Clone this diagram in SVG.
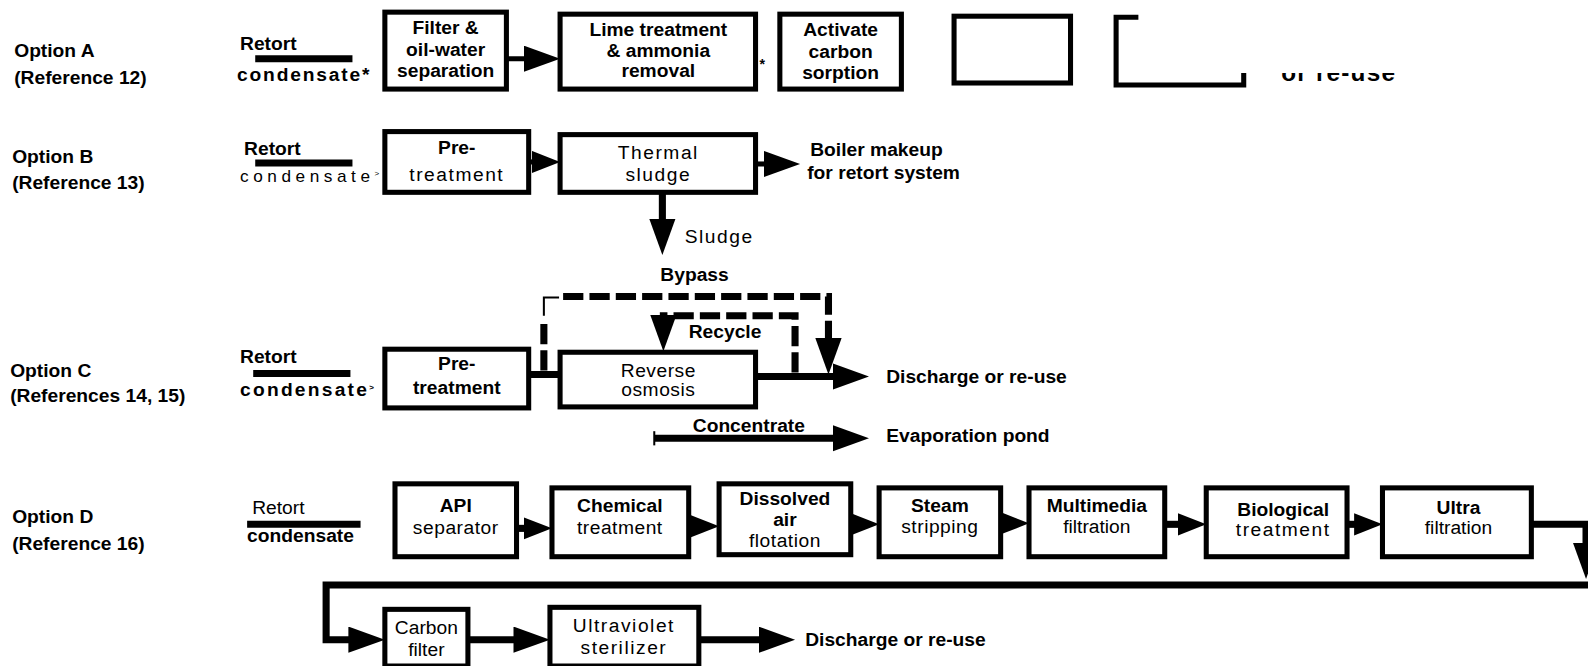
<svg xmlns="http://www.w3.org/2000/svg" width="1588" height="666" viewBox="0 0 1588 666">
<defs>
<style>
.box{fill:#fff;stroke:#000;stroke-width:5}
.ln{fill:none;stroke:#000;stroke-width:5}
.th{fill:none;stroke:#000;stroke-width:7}
.dash{fill:none;stroke:#000;stroke-width:7;stroke-dasharray:20 6}
text{font-family:"Liberation Sans",Arial,Helvetica,sans-serif;font-size:19px;fill:#000}
.b{font-weight:bold}
.c{text-anchor:middle}
.sp{letter-spacing:1.5px}
.r1{letter-spacing:0.5px}
</style>
<marker id="ah" markerUnits="userSpaceOnUse" markerWidth="38" markerHeight="28" refX="16" refY="13" orient="auto">
<path d="M0,0 L36,13 L0,26 Z" fill="#000"/>
</marker>
<marker id="ahs" markerUnits="userSpaceOnUse" markerWidth="30" markerHeight="24" refX="8" refY="11" orient="auto">
<path d="M0,0 L28,11 L0,22 Z" fill="#000"/>
</marker>
<clipPath id="cut"><rect x="1200" y="72" width="300" height="14"/></clipPath>
</defs>
<rect width="1588" height="666" fill="#fff"/>
<g transform="scale(1.0128,1.0122)">
<g id="labels">
<text class="b" x="14" y="56">Option  A</text>
<text class="b" x="14" y="83">(Reference  12)</text>
<text class="b" x="12" y="161">Option  B</text>
<text class="b" x="12" y="187">(Reference  13)</text>
<text class="b" x="10" y="372">Option  C</text>
<text class="b" x="10" y="397">(References 14, 15)</text>
<text class="b" x="12" y="517">Option  D</text>
<text class="b" x="12" y="543">(Reference  16)</text>
</g>
<g id="connectors">
<line class="th" x1="252" y1="58" x2="348" y2="58"/>
<line class="ln" x1="500" y1="58" x2="533" y2="58" marker-end="url(#ah)"/>
<line class="th" x1="252" y1="161" x2="348" y2="161"/>
<line class="ln" x1="522" y1="160" x2="533" y2="160" marker-end="url(#ahs)"/>
<line class="ln" x1="746" y1="162" x2="770" y2="162" marker-end="url(#ah)"/>
<line class="th" x1="654" y1="190" x2="654" y2="232" marker-end="url(#ah)"/>
<line class="th" x1="250" y1="369" x2="346" y2="369"/>
<line class="th" x1="522" y1="370" x2="553" y2="370"/>
<line class="th" x1="746" y1="372" x2="838" y2="372" marker-end="url(#ah)"/>
<path class="dash" d="M537,366 V318"/>
<path fill="none" stroke="#000" stroke-width="2" d="M537,312 V294 H552"/>
<path class="dash" d="M556,293 H818 V350" marker-end="url(#ah)"/>
<path class="dash" d="M785,368 V312 H655 V327" marker-end="url(#ah)"/>
<line class="th" x1="646" y1="433" x2="838" y2="433" marker-end="url(#ah)"/>
<line stroke="#000" stroke-width="2" x1="646" y1="426" x2="646" y2="440"/>
<line class="th" x1="244" y1="518" x2="356" y2="518"/>
<line class="th" x1="510" y1="522" x2="525" y2="522" marker-end="url(#ahs)"/>
<line class="th" x1="680" y1="520" x2="690" y2="520" marker-end="url(#ahs)"/>
<line class="th" x1="840" y1="518" x2="848" y2="518" marker-end="url(#ahs)"/>
<line class="th" x1="988" y1="517" x2="996" y2="517" marker-end="url(#ahs)"/>
<line class="th" x1="1150" y1="518" x2="1171" y2="518" marker-end="url(#ahs)"/>
<line class="th" x1="1330" y1="518" x2="1345" y2="518" marker-end="url(#ahs)"/>
<path class="th" d="M1512,518 H1566 V552" marker-end="url(#ah)"/>
<path class="th" stroke-linejoin="miter" d="M1570,578 H322 V632 H360" marker-end="url(#ah)"/>
<line class="th" x1="462" y1="632" x2="523" y2="632" marker-end="url(#ah)"/>
<line class="th" x1="690" y1="632" x2="765" y2="632" marker-end="url(#ah)"/>
</g>
<g id="optA">
<text class="b" x="237" y="49">Retort</text>
<text class="b" x="234" y="80" style="letter-spacing:1.8px">condensate*</text>
<g id="a1"><rect class="box" x="380" y="12" width="120" height="76"/>
<text class="b c" x="440" y="34">Filter &amp;</text><text class="b c" x="440" y="55">oil-water</text><text class="b c" x="440" y="76">separation</text></g>
<g id="a2"><rect class="box" x="553" y="14" width="193" height="74"/>
<text class="b c" x="650" y="36">Lime  treatment</text><text class="b c" x="650" y="56">&amp;  ammonia</text><text class="b c" x="650" y="76">removal</text></g>
<text class="b" x="750" y="68" style="font-size:14px">*</text>
<g id="a3"><rect class="box" x="770" y="14" width="120" height="74"/>
<text class="b c" x="830" y="36">Activate</text><text class="b c" x="830" y="57">carbon</text><text class="b c" x="830" y="78">sorption</text></g>
<g id="a4"><rect class="box" x="942" y="16" width="115" height="66"/></g>
<g id="a5"><path class="box" fill="none" d="M1124,17 H1102 V84 H1228 V72"/></g>
<text class="b" x="1265" y="80" clip-path="url(#cut)" style="font-size:24px;letter-spacing:1.2px">or re-use</text>
</g>
<g id="optB">
<text class="b" x="241" y="153">Retort</text>
<text x="237" y="180" style="letter-spacing:4.5px;font-size:17px">condensate<tspan style="font-size:8px;letter-spacing:0" dy="-6">&gt;</tspan></text>
<g id="b1"><rect class="box" x="380" y="130" width="142" height="60"/>
<text class="b c" x="451" y="152">Pre-</text><text class="c sp" x="451" y="179">treatment</text></g>
<g id="b2"><rect class="box" x="553" y="133" width="193" height="57"/>
<text class="c sp" x="650" y="157">Thermal</text><text class="c sp" x="650" y="179">sludge</text></g>
<text class="b" x="800" y="154">Boiler  makeup</text>
<text class="b" x="797" y="177">for retort system</text>
<text class="sp" x="676" y="240">Sludge</text>
</g>
<g id="optC">
<text class="b" x="652" y="278">Bypass</text>
<text class="b" x="680" y="334">Recycle</text>
<text class="b" x="237" y="359">Retort</text>
<text class="b" x="237" y="391" style="letter-spacing:2.2px">condensate<tspan style="font-size:8px;letter-spacing:0" dy="-6">&gt;</tspan></text>
<g id="c1"><rect class="box" x="380" y="345" width="142" height="58"/>
<text class="b c" x="451" y="366">Pre-</text><text class="b c" x="451" y="389">treatment</text></g>
<g id="c2"><rect class="box" x="553" y="348" width="193" height="54"/>
<text class="c r1" x="650" y="372">Reverse</text><text class="c r1" x="650" y="391">osmosis</text></g>
<text class="b" x="875" y="378">Discharge or re-use</text>
<text class="b" x="684" y="427">Concentrate</text>
<text class="b" x="875" y="437">Evaporation  pond</text>
</g>
<g id="optD">
<text x="249" y="508">Retort</text>
<text class="b" x="244" y="535">condensate</text>
<g id="d1"><rect class="box" x="390" y="478" width="120" height="72"/>
<text class="b c" x="450" y="506">API</text><text class="c r1" x="450" y="528">separator</text></g>
<g id="d2"><rect class="box" x="545" y="482" width="135" height="68"/>
<text class="b c" x="612" y="506">Chemical</text><text class="c r1" x="612" y="528">treatment</text></g>
<g id="d3"><rect class="box" x="710" y="478" width="130" height="70"/>
<text class="b c" x="775" y="499">Dissolved</text><text class="b c" x="775" y="520">air</text><text class="c r1" x="775" y="540">flotation</text></g>
<g id="d4"><rect class="box" x="868" y="482" width="120" height="68"/>
<text class="b c" x="928" y="506">Steam</text><text class="c r1" x="928" y="527">stripping</text></g>
<g id="d5"><rect class="box" x="1016" y="482" width="134" height="68"/>
<text class="b c" x="1083" y="506">Multimedia</text><text class="c" x="1083" y="527">filtration</text></g>
<g id="d6"><rect class="box" x="1191" y="482" width="139" height="68"/>
<text class="b c" x="1267" y="510">Biological</text><text class="c sp" x="1267" y="530">treatment</text></g>
<g id="d7"><rect class="box" x="1365" y="482" width="147" height="68"/>
<text class="b c" x="1440" y="508">Ultra</text><text class="c" x="1440" y="528">filtration</text></g>
<g id="d8"><rect class="box" x="380" y="602" width="82" height="56"/>
<text class="c" x="421" y="626">Carbon</text><text class="c" x="421" y="648">filter</text></g>
<g id="d9"><rect class="box" x="543" y="600" width="147" height="58"/>
<text class="c sp" x="616" y="624">Ultraviolet</text><text class="c sp" x="616" y="646">sterilizer</text></g>
<text class="b" x="795" y="638">Discharge or re-use</text>
</g>
</g>
</svg>
